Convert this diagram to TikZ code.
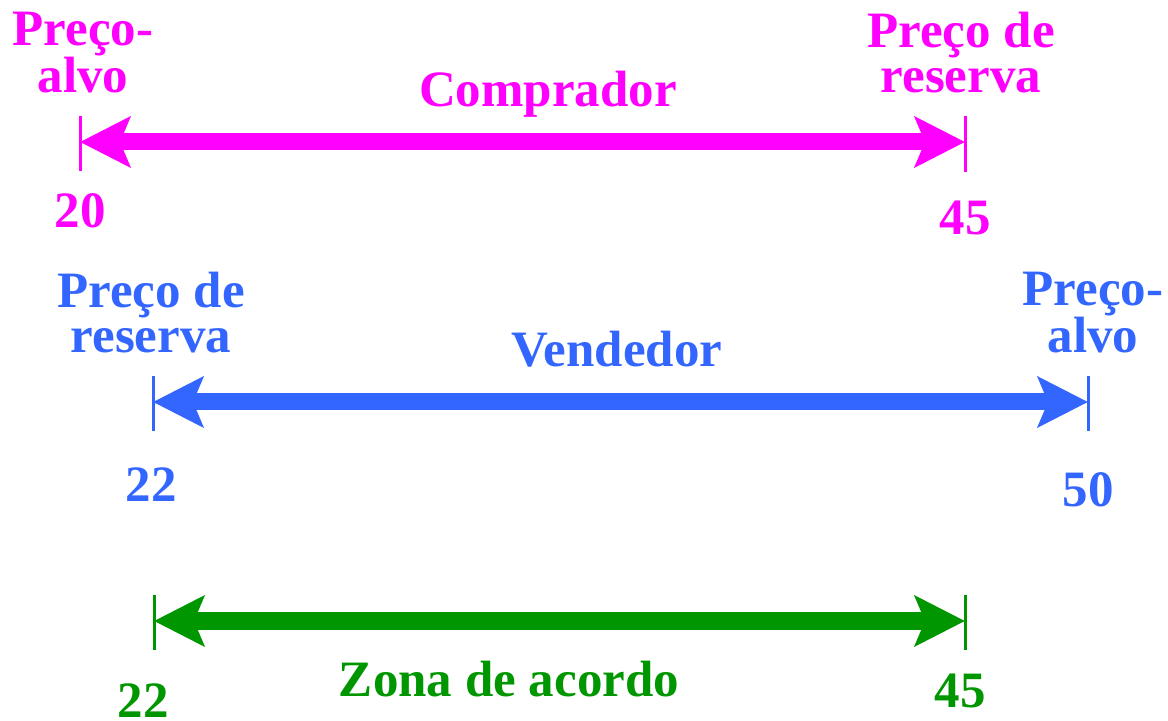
\documentclass[tikz,border=0pt]{standalone}
\usepackage{fontspec}
\setmainfont{Liberation Serif}
\usetikzlibrary{arrows.meta}
\definecolor{cmag}{RGB}{255,0,255}
\definecolor{cblue}{RGB}{51,102,255}
\definecolor{cgreen}{RGB}{0,150,0}
\tikzset{lbl/.style = {font=\bfseries\fontsize{25.5}{22.5}\selectfont, inner sep=0, anchor=base, align=center},
  pricerange/.style = {line width=8.5pt, {Stealth[length=25pt, width=25pt, inset=5pt]}-{Stealth[length=25pt, width=25pt, inset=5pt]}},
  tickmark/.style = {line width=1.5pt}}

\begin{document}
\begin{tikzpicture}[x=0.5pt, y=-0.5pt]
      \useasboundingbox (0, 0) rectangle (1168, 721);
      % comprador
      \coordinate (ca) at (80, 142);
      \coordinate (cb) at (965, 142);
      \draw [tickmark, cmag] (80, 116) -- (80, 171);
      \draw [tickmark, cmag] (965, 116) -- (965, 172);
      \draw [pricerange, cmag] (ca) -- (cb);
      \node [lbl, cmag] (calvo) at (83, 93) {Preço-\\alvo};
      \node [lbl, cmag] (cres) at (961, 93) {Preço de\\reserva};
      \node [lbl, cmag] (ctit) at (548, 107) {Comprador};
      \node [lbl, cmag] (cva) at (80, 228) {20};
      \node [lbl, cmag] (cvb) at (965, 235) {45};
      % vendedor
      \coordinate (va) at (153, 402);
      \coordinate (vb) at (1088, 402);
      \draw [tickmark, cblue] (153, 376) -- (153, 431);
      \draw [tickmark, cblue] (1088, 376) -- (1088, 431);
      \draw [pricerange, cblue] (va) -- (vb);
      \node [lbl, cblue] (vres) at (151, 353) {Preço de\\reserva};
      \node [lbl, cblue] (valvo) at (1093, 353) {Preço-\\alvo};
      \node [lbl, cblue] (vtit) at (617, 367) {Vendedor};
      \node [lbl, cblue] (vva) at (151, 502) {22};
      \node [lbl, cblue] (vvb) at (1088, 507) {50};
      % zona de acordo
      \coordinate (za) at (154, 621);
      \coordinate (zb) at (965, 621);
      \draw [tickmark, cgreen] (154, 595) -- (154, 650);
      \draw [tickmark, cgreen] (965, 595) -- (965, 650);
      \draw [pricerange, cgreen] (za) -- (zb);
      \node [lbl, cgreen] (ztit) at (509, 697) {Zona de acordo};
      \node [lbl, cgreen] (zva) at (143, 717) {22};
      \node [lbl, cgreen] (zvb) at (960, 707) {45};
\end{tikzpicture}
\end{document}
